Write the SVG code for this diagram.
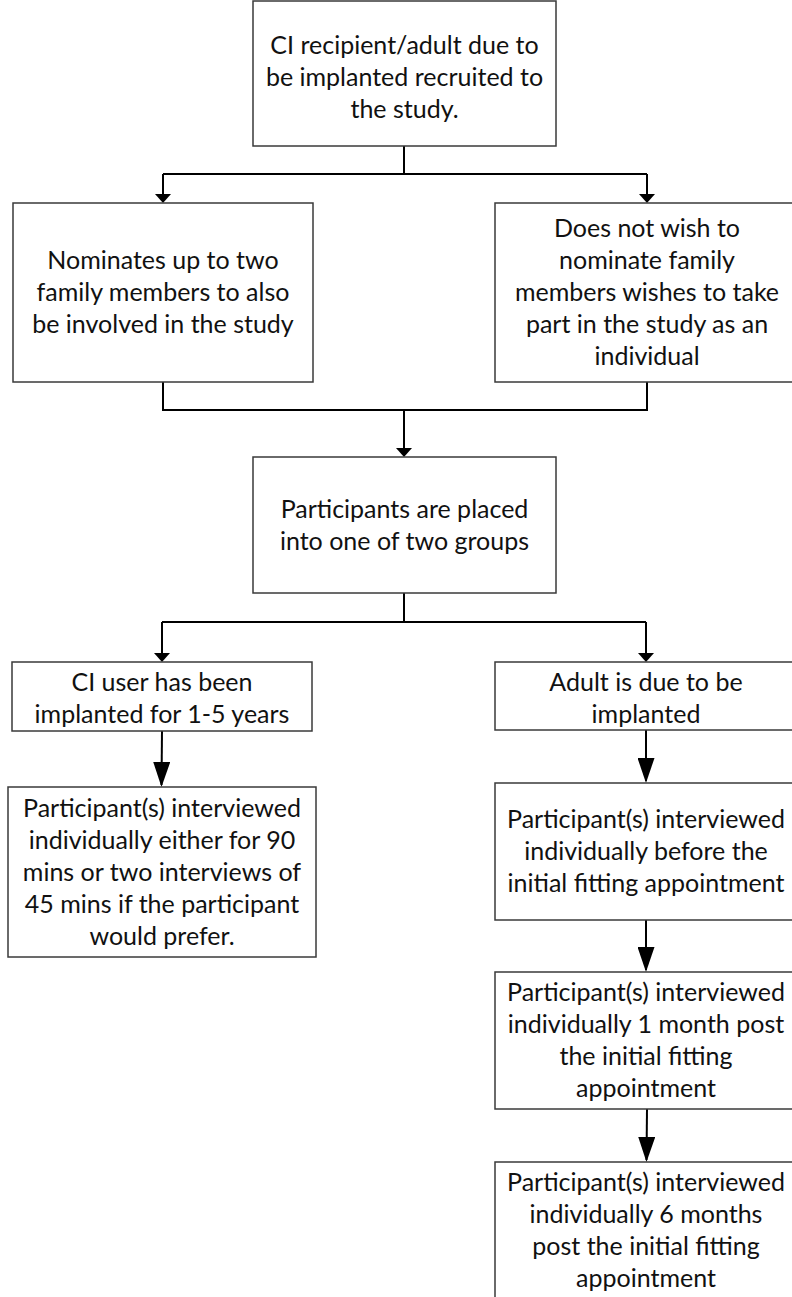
<svg xmlns="http://www.w3.org/2000/svg" width="792" height="1297" viewBox="0 0 792 1297">
  <style>
    .box rect { fill: #ffffff; stroke: #3a3a3a; stroke-width: 1.5; }
    .box text { font-family: "Lato", "Open Sans", "Liberation Sans", sans-serif; font-size: 25px; fill: #111111; text-anchor: middle; }
    .wire { fill: none; stroke: #000000; stroke-width: 2; }
  </style>
  <defs>
    <!-- short, wide head for the branch connectors -->
    <marker id="tipSmall" markerUnits="userSpaceOnUse" markerWidth="9" markerHeight="16" refX="7" refY="8" orient="auto" viewBox="0 0 9 16">
      <path d="M0,0 L9,8 L0,16 Z" fill="#000000"/>
    </marker>
    <!-- long, narrow head for box-to-box steps -->
    <marker id="tipLarge" markerUnits="userSpaceOnUse" markerWidth="25" markerHeight="17" refX="23" refY="8.5" orient="auto" viewBox="0 0 25 17">
      <path d="M0,0 L25,8.5 L0,17 Z" fill="#000000"/>
    </marker>
  </defs>

  <!-- connectors -->
  <g id="connectors">
    <path class="wire" d="M404,146 V174 M163,174 H647"/>
    <path class="wire" d="M163,174 V201" marker-end="url(#tipSmall)"/>
    <path class="wire" d="M647,174 V201" marker-end="url(#tipSmall)"/>

    <path class="wire" d="M163,382 V410 H647 V382"/>
    <path class="wire" d="M404,410 V455" marker-end="url(#tipSmall)"/>

    <path class="wire" d="M404,593 V622 M162,622 H646"/>
    <path class="wire" d="M162,622 V660" marker-end="url(#tipSmall)"/>
    <path class="wire" d="M646,622 V660" marker-end="url(#tipSmall)"/>

    <path class="wire" d="M162,731 L161.5,785" marker-end="url(#tipLarge)"/>
    <path class="wire" d="M646,730 V781" marker-end="url(#tipLarge)"/>
    <path class="wire" d="M646,920 V970" marker-end="url(#tipLarge)"/>
    <path class="wire" d="M647,1109 L646.5,1160" marker-end="url(#tipLarge)"/>
  </g>

  <g id="recruited" class="box">
    <rect x="253" y="1" width="303" height="145"/>
    <text x="404.5" y="45" dy="0.35em">CI recipient/adult due to</text>
    <text x="404.5" y="77" dy="0.35em">be implanted recruited to</text>
    <text x="404.5" y="109" dy="0.35em">the study.</text>
  </g>

  <g id="nominates" class="box">
    <rect x="13" y="203" width="300" height="179"/>
    <text x="163" y="260.5" dy="0.35em">Nominates up to two</text>
    <text x="163" y="292.5" dy="0.35em">family members to also</text>
    <text x="163" y="324.5" dy="0.35em">be involved in the study</text>
  </g>

  <g id="individual" class="box">
    <rect x="495" y="203" width="304" height="179"/>
    <text x="647" y="228.5" dy="0.35em">Does not wish to</text>
    <text x="647" y="260.5" dy="0.35em">nominate family</text>
    <text x="647" y="292.5" dy="0.35em">members wishes to take</text>
    <text x="647" y="324.5" dy="0.35em">part in the study as an</text>
    <text x="647" y="356.5" dy="0.35em">individual</text>
  </g>

  <g id="groups" class="box">
    <rect x="253" y="457" width="303" height="136"/>
    <text x="404.5" y="509" dy="0.35em">Participants are placed</text>
    <text x="404.5" y="541" dy="0.35em">into one of two groups</text>
  </g>

  <g id="implanted-users" class="box">
    <rect x="12" y="662" width="300" height="69"/>
    <text x="162" y="682" dy="0.35em">CI user has been</text>
    <text x="162" y="714" dy="0.35em">implanted for 1-5 years</text>
  </g>

  <g id="due-to-implant" class="box">
    <rect x="495" y="662" width="303" height="68"/>
    <text x="646" y="682" dy="0.35em">Adult is due to be</text>
    <text x="646" y="714" dy="0.35em">implanted</text>
  </g>

  <g id="interview-once" class="box">
    <rect x="8" y="787" width="308" height="170"/>
    <text x="162" y="808" dy="0.35em">Participant(s) interviewed</text>
    <text x="162" y="840" dy="0.35em">individually either for 90</text>
    <text x="162" y="872" dy="0.35em">mins or two interviews of</text>
    <text x="162" y="904" dy="0.35em">45 mins if the participant</text>
    <text x="162" y="936" dy="0.35em">would prefer.</text>
  </g>

  <g id="interview-before" class="box">
    <rect x="495" y="783" width="303" height="137"/>
    <text x="646" y="819.5" dy="0.35em">Participant(s) interviewed</text>
    <text x="646" y="851.5" dy="0.35em">individually before the</text>
    <text x="646" y="883.5" dy="0.35em">initial fitting appointment</text>
  </g>

  <g id="interview-1-month" class="box">
    <rect x="495" y="972" width="303" height="137"/>
    <text x="646" y="992.5" dy="0.35em">Participant(s) interviewed</text>
    <text x="646" y="1024.5" dy="0.35em">individually 1 month post</text>
    <text x="646" y="1056.5" dy="0.35em">the initial fitting</text>
    <text x="646" y="1088.5" dy="0.35em">appointment</text>
  </g>

  <g id="interview-6-months" class="box">
    <rect x="495" y="1162" width="303" height="140"/>
    <text x="646" y="1182" dy="0.35em">Participant(s) interviewed</text>
    <text x="646" y="1214" dy="0.35em">individually 6 months</text>
    <text x="646" y="1246" dy="0.35em">post the initial fitting</text>
    <text x="646" y="1278" dy="0.35em">appointment</text>
  </g>
</svg>
